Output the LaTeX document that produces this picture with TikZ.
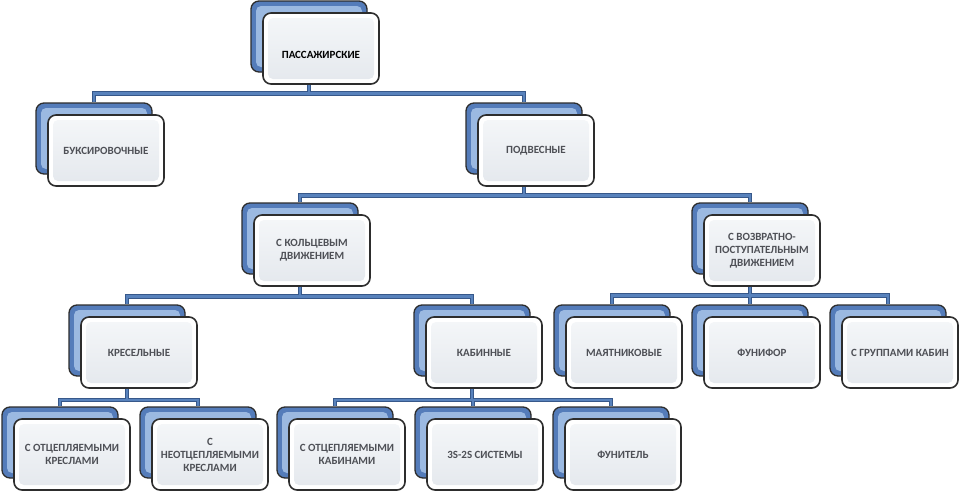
\documentclass[tikz,border=0pt]{standalone}
\usepackage{fontspec}
\setmainfont{Carlito}
\definecolor{boxblue}{RGB}{84,124,186}
\definecolor{boxlight}{RGB}{155,185,225}
\definecolor{edge}{RGB}{45,45,45}
\definecolor{fronttop}{RGB}{245,247,249}
\definecolor{frontbot}{RGB}{228,232,237}
\definecolor{conndark}{RGB}{55,88,138}
\definecolor{connlight}{RGB}{88,130,188}
\definecolor{txt}{RGB}{78,80,86}
\tikzset{
  backbox/.style={rectangle, rounded corners=8pt, minimum width=116pt, minimum height=71pt,
    inner sep=0pt, draw=edge, line width=1.3pt, fill=boxblue,
    path picture={\fill[boxlight, rounded corners=5pt]
      ([shift={(5pt,-5pt)}]path picture bounding box.north west) rectangle
      ([shift={(-5pt,5pt)}]path picture bounding box.south east);}},
  frontbox/.style={rectangle, rounded corners=8pt, minimum width=116pt, minimum height=71pt,
    inner sep=0pt, draw=edge, line width=1.6pt, fill=white,
    path picture={\fill[rounded corners=5pt, top color=fronttop, bottom color=frontbot]
      ([shift={(5pt,-5pt)}]path picture bounding box.north west) rectangle
      ([shift={(-5pt,5pt)}]path picture bounding box.south east);},
    align=center, text=txt, font=\bfseries\fontsize{11}{13}\selectfont},
  connA/.style={draw=conndark, line width=4.6pt, line join=miter},
  connB/.style={draw=connlight, line width=2.6pt, line join=miter},
}
\newcommand\mkpair[4]{%
  \node[backbox] (b#1) at (#2+46,#3+23.5) {};
  \node[frontbox] (#1) at (#2+58,#3+35.5) {#4};}
\newcommand\mylinks[1]{%
  \draw[#1] (bP.center |- P.south) -- (bP.center |- j1);
  \draw[#1] (bB.north) -- (bB.north |- j1) -- (bD.north |- j1) -- (bD.north);
  \draw[#1] (bD.center |- D.south) -- (bD.center |- j2);
  \draw[#1] (bK.north) -- (bK.north |- j2) -- (bV.north |- j2) -- (bV.north);
  \draw[#1] (bK.center |- K.south) -- (bK.center |- j3);
  \draw[#1] (bKR.north) -- (bKR.north |- j3) -- (bKA.north |- j3) -- (bKA.north);
  \draw[#1] (bV.center |- V.south) -- (bV.center |- j4);
  \draw[#1] (bM.north) -- (bM.north |- j4) -- (bG.north |- j4) -- (bG.north);
  \draw[#1] (bF.north |- j4) -- (bF.north);
  \draw[#1] (bKR.center |- KR.south) -- (bKR.center |- j5);
  \draw[#1] (bOK.north) -- (bOK.north |- j5) -- (bNK.north |- j5) -- (bNK.north);
  \draw[#1] (bKA.center |- KA.south) -- (bKA.center |- j6);
  \draw[#1] (bOC.north) -- (bOC.north |- j6) -- (bFU.north |- j6) -- (bFU.north);
  \draw[#1] (bS.north |- j6) -- (bS.north);}
\begin{document}
\begin{tikzpicture}[x=1pt,y=-1pt]
\path[use as bounding box] (0,0) rectangle (959,493);
\mkpair{P}{263}{13}{\raisebox{-10pt}[0pt][0pt]{\textcolor{black}{ПАССАЖИРСКИЕ}}}
\mkpair{B}{48}{115}{БУКСИРОВОЧНЫЕ}
\mkpair{D}{478}{115}{ПОДВЕСНЫЕ}
\mkpair{K}{254}{215}{С КОЛЬЦЕВЫМ\\ДВИЖЕНИЕМ}
\mkpair{V}{704}{215}{С ВОЗВРАТНО-\\ПОСТУПАТЕЛЬНЫМ\\ДВИЖЕНИЕМ}
\mkpair{KR}{81}{317}{КРЕСЕЛЬНЫЕ}
\mkpair{KA}{426}{317}{КАБИННЫЕ}
\mkpair{M}{566}{317}{МАЯТНИКОВЫЕ}
\mkpair{F}{704}{317}{ФУНИФОР}
\mkpair{G}{842}{317}{С ГРУППАМИ КАБИН}
\mkpair{OK}{14}{419}{С ОТЦЕПЛЯЕМЫМИ\\КРЕСЛАМИ}
\mkpair{NK}{152}{419}{С\\НЕОТЦЕПЛЯЕМЫМИ\\КРЕСЛАМИ}
\mkpair{OC}{289}{419}{С ОТЦЕПЛЯЕМЫМИ\\КАБИНАМИ}
\mkpair{S}{427}{419}{3S-2S СИСТЕМЫ}
\mkpair{FU}{565}{419}{ФУНИТЕЛЬ}
\coordinate (j1) at (0,93.5);
\coordinate (j2) at (0,195.5);
\coordinate (j3) at (0,296.5);
\coordinate (j4) at (0,295.5);
\coordinate (j5) at (0,400);
\coordinate (j6) at (0,400);
\mylinks{connA}
\mylinks{connB}
\end{tikzpicture}
\end{document}
